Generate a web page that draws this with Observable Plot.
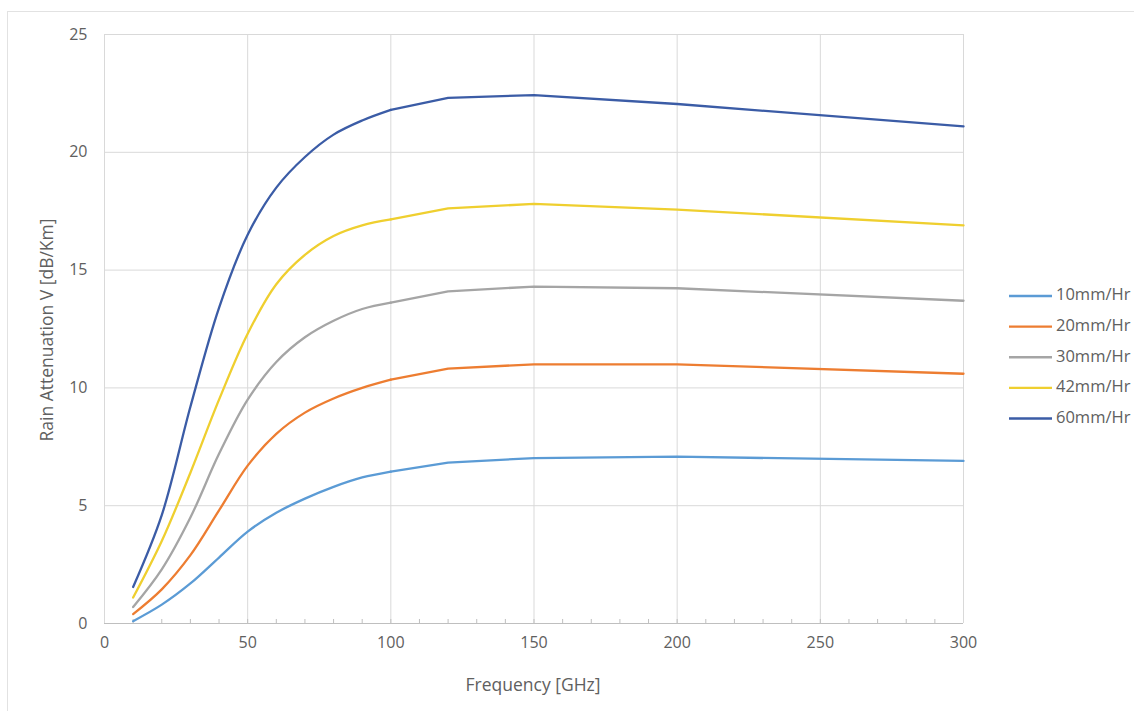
<!DOCTYPE html>
<html><head><meta charset="utf-8">
<script src="https://cdn.jsdelivr.net/npm/d3@7"></script>
<script src="https://cdn.jsdelivr.net/npm/@observablehq/plot@0.6"></script>
<style>
body{margin:0;background:#fff;overflow:hidden;}
#wrap{position:relative;width:1134px;height:711px;}
#frame{position:absolute;left:7px;top:11px;width:1140px;height:720px;border:1px solid #e2e2e2;box-sizing:border-box;pointer-events:none;}
#chart{position:absolute;left:0;top:0;}
</style>
</head><body>
<div id="wrap"><div id="chart"></div><div id="frame"></div></div>
<script>
const frequencies = [10, 20, 30, 40, 50, 60, 70, 80, 90, 100, 120, 150, 200, 300];
const seriesNames = ["10mm/Hr", "20mm/Hr", "30mm/Hr", "42mm/Hr", "60mm/Hr"];
const seriesColors = ["#5B9BD5", "#ED7D31", "#A5A5A5", "#EFCF2F", "#3B5CA6"];
const att10 = [0.1, 0.8, 1.7, 2.8, 3.9, 4.7, 5.3, 5.8, 6.2, 6.45, 6.83, 7.02, 7.08, 6.9];
const att20 = [0.4, 1.45, 2.9, 4.8, 6.7, 8.05, 8.95, 9.55, 10.0, 10.35, 10.82, 11.0, 11.0, 10.6];
const att30 = [0.7, 2.3, 4.5, 7.2, 9.5, 11.1, 12.15, 12.85, 13.35, 13.62, 14.1, 14.3, 14.23, 13.7];
const att42 = [1.1, 3.5, 6.4, 9.5, 12.3, 14.4, 15.65, 16.45, 16.9, 17.15, 17.62, 17.81, 17.57, 16.9];
const att60 = [1.55, 4.6, 9.2, 13.4, 16.5, 18.5, 19.8, 20.75, 21.35, 21.8, 22.31, 22.43, 22.05, 21.1];
const xTicks = [0, 50, 100, 150, 200, 250, 300];
const yTicks = [0, 5, 10, 15, 20, 25];
const xMinorTicks = d3.range(10, 300, 10);
const xLabel = "Frequency [GHz]";
const yLabel = "Rain Attenuation V [dB/Km]";

const allSeries = [att10, att20, att30, att42, att60];
const data = [];
allSeries.forEach((vals, i) => {
  vals.forEach((v, j) => data.push({series: seriesNames[i], f: frequencies[j], v}));
});
const smoothPart = data.filter(d => d.f <= 100);
const straightPart = data.filter(d => d.f >= 100);

const textColor = "#606060";
const font = "'Open Sans', sans-serif";

const plot = Plot.plot({
  width: 1134,
  height: 711,
  marginLeft: 104,
  marginRight: 171,
  marginTop: 34,
  marginBottom: 88,
  style: {fontFamily: font, fontSize: "16px", color: textColor, background: "transparent"},
  x: {domain: [0, 300]},
  y: {domain: [0, 25]},
  color: {domain: seriesNames, range: seriesColors},
  marks: [
    Plot.ruleY(yTicks.filter(d => d > 0), {stroke: "#d9d9d9", strokeWidth: 1}),
    Plot.ruleX(xTicks, {stroke: "#d9d9d9", strokeWidth: 1}),
    Plot.ruleX(xMinorTicks, {y1: 0, y2: 0.17, stroke: "#bfbfbf", strokeWidth: 1}),
    Plot.ruleY([0], {stroke: "#bfbfbf", strokeWidth: 1}),
    Plot.axisX({ticks: xTicks, tickSize: 0, tickPadding: 13, label: null, fill: textColor, fontSize: 16}),
    Plot.axisY({ticks: yTicks, tickSize: 0, tickPadding: 17, label: null, fill: textColor, fontSize: 16}),
    Plot.line(smoothPart, {x: "f", y: "v", z: "series", stroke: "series", strokeWidth: 2.3, curve: "catmull-rom", strokeLinecap: "round"}),
    Plot.line(straightPart, {x: "f", y: "v", z: "series", stroke: "series", strokeWidth: 2.3, curve: "linear", strokeLinecap: "round"})
  ]
});

document.getElementById("chart").appendChild(plot);

const svg = d3.select(plot);
svg.append("text")
  .attr("x", 533).attr("y", 686)
  .attr("text-anchor", "middle").attr("dominant-baseline", "middle")
  .attr("fill", textColor).style("font-family", font).style("font-size", "17.5px")
  .text(xLabel);
svg.append("text")
  .attr("transform", "translate(48,330) rotate(-90)")
  .attr("text-anchor", "middle").attr("dominant-baseline", "middle")
  .attr("fill", textColor).style("font-family", font).style("font-size", "17.5px")
  .text(yLabel);

const legendY = d3.scaleLinear().domain([0, seriesNames.length - 1]).range([296, 418.5]);
const lg = svg.append("g");
seriesNames.forEach((name, i) => {
  const y = legendY(i);
  lg.append("line").attr("x1", 1009).attr("x2", 1052).attr("y1", y).attr("y2", y)
    .attr("stroke", seriesColors[i]).attr("stroke-width", 2.3);
  lg.append("text").attr("x", 1056).attr("y", y)
    .attr("text-anchor", "start")
    .attr("dominant-baseline", "middle").attr("fill", textColor)
    .style("font-family", font).style("font-size", "16.5px")
    .text(name);
});
</script>
</body></html>
